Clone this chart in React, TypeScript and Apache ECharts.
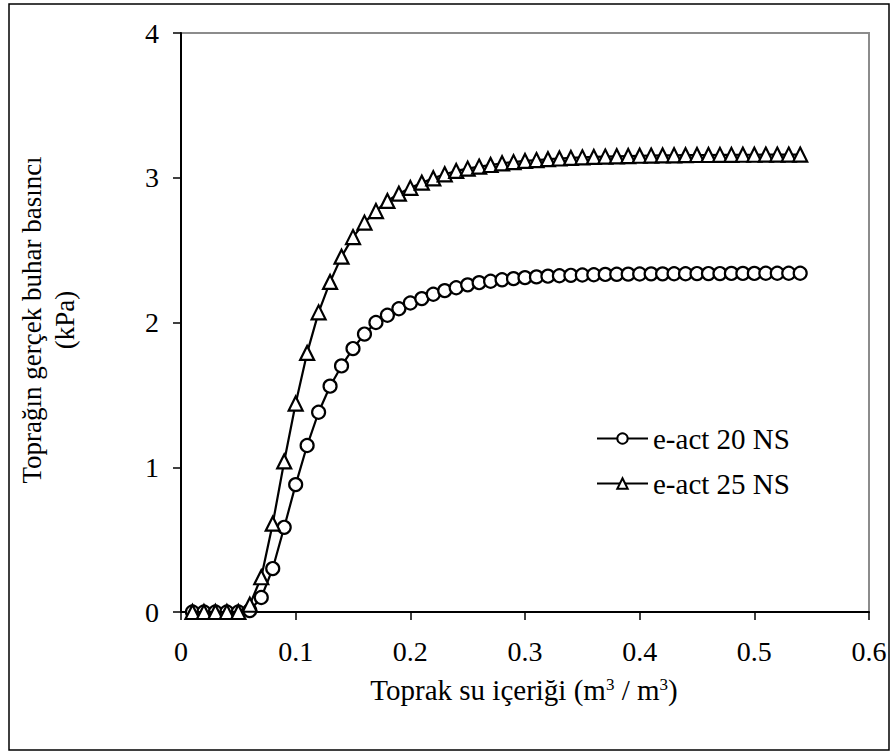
import React, { useEffect, useRef } from "react";
import * as echarts from "echarts";

const xValues = [
  0.01, 0.02, 0.03, 0.04, 0.05, 0.06, 0.07, 0.08, 0.09, 0.1,
  0.11, 0.12, 0.13, 0.14, 0.15, 0.16, 0.17, 0.18, 0.19, 0.2,
  0.21, 0.22, 0.23, 0.24, 0.25, 0.26, 0.27, 0.28, 0.29, 0.3,
  0.31, 0.32, 0.33, 0.34, 0.35, 0.36, 0.37, 0.38, 0.39, 0.4,
  0.41, 0.42, 0.43, 0.44, 0.45, 0.46, 0.47, 0.48, 0.49, 0.5,
  0.51, 0.52, 0.53, 0.54,
];

const eAct20 = [
  0, 0, 0, 0, 0, 0.01, 0.1, 0.3, 0.585, 0.88,
  1.15, 1.38, 1.56, 1.7, 1.82, 1.92, 2.0, 2.05, 2.095, 2.135,
  2.165, 2.195, 2.22, 2.24, 2.26, 2.275, 2.285, 2.295, 2.303, 2.31,
  2.315, 2.32, 2.323, 2.326, 2.328, 2.33, 2.332, 2.333, 2.334, 2.335,
  2.336, 2.336, 2.337, 2.337, 2.338, 2.338, 2.338, 2.339, 2.339, 2.339,
  2.34, 2.34, 2.34, 2.34,
];

const eAct25 = [
  0, 0, 0, 0, 0, 0.05, 0.24, 0.61, 1.04, 1.44,
  1.79, 2.07, 2.28, 2.455, 2.59, 2.69, 2.77, 2.84, 2.89, 2.93,
  2.966, 2.996, 3.024, 3.047, 3.063, 3.077, 3.088, 3.1, 3.108, 3.116,
  3.122, 3.128, 3.133, 3.137, 3.141, 3.144, 3.146, 3.148, 3.15, 3.152,
  3.153, 3.154, 3.155, 3.156, 3.157, 3.157, 3.158, 3.158, 3.159, 3.159,
  3.16, 3.16, 3.16, 3.16,
];

const seriesNames = ["e-act 20 NS", "e-act 25 NS"];
const yTitleLines = ["Toprağın gerçek buhar basıncı", "(kPa)"];
const xTitle = "Toprak su içeriği (m{sup|3} / m{sup|3})";

const FONT = "Liberation Serif";

export default function App() {
  const ref = useRef<HTMLDivElement>(null);

  useEffect(() => {
    if (!ref.current) return;
    const chart = echarts.init(ref.current, undefined, { renderer: "svg" });
    const pair = (ys: number[]) => xValues.map((x, i) => [x, ys[i]]);
    const markerStyle = {
      color: "#ffffff",
      borderColor: "#000000",
      borderWidth: 2.2,
    };
    chart.setOption({
      animation: false,
      backgroundColor: "#ffffff",
      textStyle: { fontFamily: FONT, color: "#000" },
      grid: {
        left: 181,
        right: 24,
        top: 33,
        bottom: 144,
        show: true,
        borderColor: "#8c8c8c",
        borderWidth: 2,
        backgroundColor: "transparent",
      },
      legend: {
        orient: "vertical",
        left: 591,
        top: 419,
        itemWidth: 51,
        itemHeight: 13,
        itemGap: 16,
        data: seriesNames,
        textStyle: { fontFamily: FONT, fontSize: 29, color: "#000" },
      },
      xAxis: {
        type: "value",
        min: 0,
        max: 0.6,
        interval: 0.1,
        axisLine: { show: true, onZero: false, lineStyle: { color: "#000", width: 2 } },
        axisTick: { show: true, inside: false, length: 8, lineStyle: { color: "#000", width: 1.5 } },
        axisLabel: { fontFamily: FONT, fontSize: 28, color: "#000", margin: 25 },
        splitLine: { show: false },
      },
      yAxis: {
        type: "value",
        min: 0,
        max: 4,
        interval: 1,
        axisLine: { show: true, onZero: false, lineStyle: { color: "#000", width: 2 } },
        axisTick: { show: true, inside: false, length: 8, lineStyle: { color: "#000", width: 1.5 } },
        axisLabel: { fontFamily: FONT, fontSize: 28, color: "#000", margin: 22 },
        splitLine: { show: false },
      },
      graphic: [
        {
          type: "rect",
          shape: { x: 9, y: 4, width: 880, height: 746 },
          style: { fill: "none", stroke: "#000", lineWidth: 1.5 },
          silent: true,
          z: -1,
        },
        {
          type: "text",
          x: 32,
          y: 320,
          rotation: Math.PI / 2,
          style: {
            text: yTitleLines[0],
            fontSize: 27,
            fontFamily: FONT,
            fill: "#000",
            textAlign: "center",
            textVerticalAlign: "middle",
          },
        },
        {
          type: "text",
          x: 65,
          y: 320,
          rotation: Math.PI / 2,
          style: {
            text: yTitleLines[1],
            fontSize: 27,
            fontFamily: FONT,
            fill: "#000",
            textAlign: "center",
            textVerticalAlign: "middle",
          },
        },
        {
          type: "text",
          x: 524,
          y: 690,
          style: {
            text: xTitle,
            fontSize: 29,
            fontFamily: FONT,
            fill: "#000",
            textAlign: "center",
            textVerticalAlign: "middle",
            rich: {
              sup: { fontSize: 17, fontFamily: FONT, fill: "#000", verticalAlign: "top", padding: [0, 0, 12, 0] },
            },
          },
        },
      ],
      series: [
        {
          name: seriesNames[0],
          type: "line",
          data: pair(eAct20),
          symbol: "circle",
          symbolSize: 13,
          showAllSymbol: true,
          lineStyle: { color: "#000", width: 2.2 },
          itemStyle: markerStyle,
          z: 3,
        },
        {
          name: seriesNames[1],
          type: "line",
          data: pair(eAct25),
          symbol: "triangle",
          symbolSize: 14,
          showAllSymbol: true,
          lineStyle: { color: "#000", width: 2.2 },
          itemStyle: markerStyle,
          z: 4,
        },
      ],
    });
    return () => chart.dispose();
  }, []);

  return (
    <div
      ref={ref}
      style={{ position: "absolute", left: 0, top: 0, width: 893, height: 756, background: "#fff" }}
    />
  );
}
